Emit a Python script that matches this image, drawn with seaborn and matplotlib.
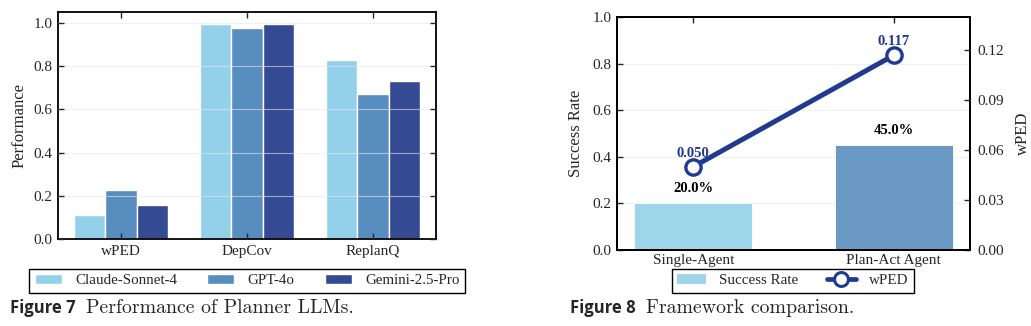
import matplotlib
matplotlib.use("Agg")
import matplotlib.pyplot as plt
import seaborn as sns
import pandas as pd
from matplotlib.patches import Patch
from matplotlib.lines import Line2D
from matplotlib.ticker import FormatStrFormatter

# ---------------- data ----------------
metrics = ["wPED", "DepCov", "ReplanQ"]
models = ["Claude-Sonnet-4", "GPT-4o", "Gemini-2.5-Pro"]
claude_vals = [0.11, 0.995, 0.828]
gpt_vals = [0.225, 0.978, 0.67]
gemini_vals = [0.155, 0.995, 0.73]
model_colors = ["#93d1eb", "#588ebf", "#344b94"]

frameworks = ["Single-Agent", "Plan-Act Agent"]
success_rate = [0.20, 0.45]
wped = [0.050, 0.117]
framework_colors = ["#9dd5eb", "#6a9ac3"]
line_color = "#1f3a8f"

left_yticks = [0.0, 0.2, 0.4, 0.6, 0.8, 1.0]
right_y2ticks = [0.00, 0.03, 0.06, 0.09, 0.12]

# ---------------- style ----------------
sns.set_theme(style="ticks")
plt.rcParams["font.family"] = ["Liberation Serif", "DejaVu Serif"]
plt.rcParams["font.size"] = 11
plt.rcParams["axes.linewidth"] = 1.3
plt.rcParams["xtick.direction"] = "in"
plt.rcParams["ytick.direction"] = "in"
plt.rcParams["xtick.major.size"] = 4
plt.rcParams["ytick.major.size"] = 4

TICK_FS = 11
LABEL_FS = 12
LEG_FS = 10.8

W, H = 1031, 326
fig = plt.figure(figsize=(W / 100, H / 100), dpi=100)

def fx(px):
    return px / W

def fy(py):
    return 1 - py / H

ax1 = fig.add_axes([fx(58), fy(239), fx(436 - 58), (239 - 12) / H])
ax2 = fig.add_axes([fx(617), fy(250), fx(970 - 617), (250 - 17) / H])

# ---------------- left chart ----------------
df = pd.DataFrame({
    "metric": metrics * 3,
    "model": [models[0]] * 3 + [models[1]] * 3 + [models[2]] * 3,
    "value": claude_vals + gpt_vals + gemini_vals,
})
sns.barplot(data=df, x="metric", y="value", hue="model", hue_order=models,
            palette=model_colors, saturation=1, width=0.74, edgecolor="white",
            linewidth=1.0, legend=False, ax=ax1)
ax1.set_xlim(-0.5, 2.5)
ax1.set_ylim(0, 1.05)
ax1.set_yticks(left_yticks)
ax1.yaxis.set_major_formatter(FormatStrFormatter("%.1f"))
ax1.set_xlabel("")
ax1.set_ylabel("Performance", fontsize=LABEL_FS, labelpad=4)
ax1.grid(axis="y", color="#e6e6e6", alpha=0.6, linewidth=0.8)
ax1.set_axisbelow(False)
ax1.tick_params(axis="both", which="both", top=True, right=True, labelsize=TICK_FS,
                width=1.0, pad=4)
for sp in ax1.spines.values():
    sp.set_color("black")

handles1 = [Patch(facecolor=c, edgecolor="white", label=m) for c, m in zip(model_colors, models)]
fig.legend(handles=handles1, loc="upper center", bbox_to_anchor=(fx(247), fy(269)),
           ncol=3, frameon=True, fancybox=False, edgecolor="black", fontsize=LEG_FS,
           handlelength=1.8, handleheight=0.6, columnspacing=2.0, handletextpad=0.9,
           borderpad=0.35, borderaxespad=0, framealpha=1).get_frame().set_linewidth(1.0)

# ---------------- right chart ----------------
sns.barplot(x=frameworks, y=success_rate, hue=frameworks, palette=framework_colors,
            saturation=1, width=0.59, edgecolor="#ffffff", linewidth=0.6,
            legend=False, ax=ax2)
ax2.set_xlim(-0.38, 1.38)
ax2.set_ylim(0, 1.0)
ax2.set_yticks(left_yticks)
ax2.yaxis.set_major_formatter(FormatStrFormatter("%.1f"))
ax2.set_ylabel("Success Rate", fontsize=LABEL_FS, labelpad=6)
ax2.set_xlabel("")
ax2.grid(axis="y", color="#e6e6e6", alpha=0.6, linewidth=0.8)
ax2.tick_params(axis="x", top=True, labelsize=TICK_FS, width=1.0, pad=3)
ax2.tick_params(axis="y", right=False, labelsize=TICK_FS, width=1.0, pad=4)

for c, v in zip(ax2.containers, success_rate):
    ax2.bar_label(c, labels=[f"{v * 100:.1f}%"], padding=6, fontsize=10.5,
                  fontweight="bold", color="black")

ax3 = ax2.twinx()
sns.pointplot(x=frameworks, y=wped, color=line_color, markers="o", linestyles="-",
              errorbar=None, markersize=11, markerfacecolor="white",
              markeredgewidth=2.4, linewidth=3.6, ax=ax3)
ax3.set_xlim(-0.38, 1.38)
ax3.set_ylim(0, 0.14)
ax3.set_yticks(right_y2ticks)
ax3.yaxis.set_major_formatter(FormatStrFormatter("%.2f"))
ax3.set_ylabel("wPED", fontsize=LABEL_FS, labelpad=8)
ax3.tick_params(axis="y", labelsize=TICK_FS, width=1.0, pad=5)
for i, v in enumerate(wped):
    ax3.annotate(f"{v:.3f}", xy=(i, v), xytext=(0, 5), textcoords="offset points",
                 ha="center", va="bottom", fontsize=10.5, fontweight="bold",
                 color=line_color)
for sp in list(ax2.spines.values()) + list(ax3.spines.values()):
    sp.set_color("black")
    sp.set_linewidth(1.3)

handles2 = [Patch(facecolor=framework_colors[0], edgecolor="none", label="Success Rate"),
            Line2D([0], [0], color=line_color, linewidth=3.4, marker="o", markersize=10,
                   markerfacecolor="white", markeredgewidth=2.2, label="wPED")]
fig.legend(handles=handles2, loc="upper center", bbox_to_anchor=(fx(793), fy(269)),
           ncol=2, frameon=True, fancybox=False, edgecolor="black", fontsize=LEG_FS,
           handlelength=1.9, handleheight=0.6, columnspacing=1.9, handletextpad=0.9,
           borderpad=0.35, borderaxespad=0, framealpha=1).get_frame().set_linewidth(1.0)

# ---------------- captions ----------------
for x0, x1, tag, text in [(10, 86, "Figure 7", "Performance of Planner LLMs."),
                          (570, 646, "Figure 8", "Framework comparison.")]:
    fig.text(fx(x0), fy(313), tag, family=["Open Sans", "DejaVu Sans"],
             fontweight="bold", fontsize=12, va="baseline", ha="left")
    fig.text(fx(x1), fy(313), text, family=["cmr10", "DejaVu Serif"],
             fontsize=14.3, va="baseline", ha="left")

fig.savefig("out.png", dpi=100)
